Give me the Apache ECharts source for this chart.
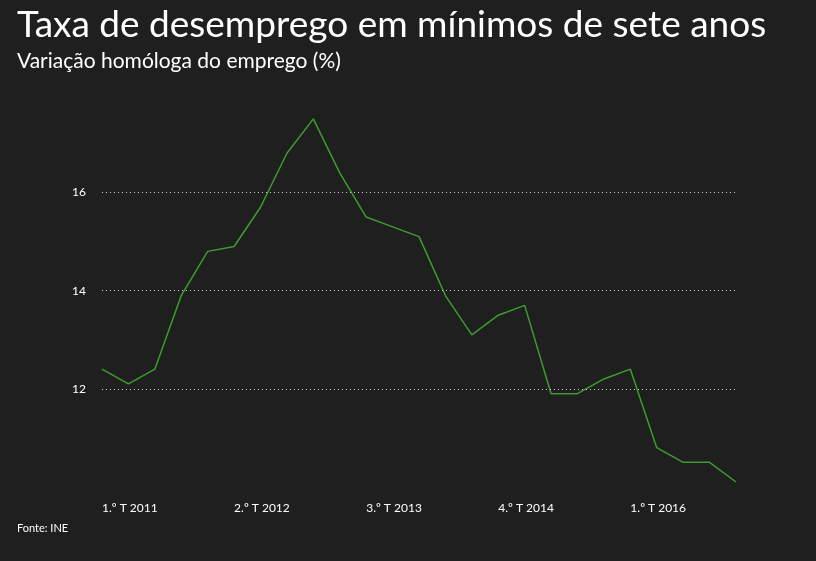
<!DOCTYPE html>
<html>
<head>
<meta charset="utf-8">
<script src="https://cdn.jsdelivr.net/npm/echarts@6/dist/echarts.min.js"></script>
<style>html,body{margin:0;background:#1f1f1f}#chart{width:816px;height:561px}</style>
</head>
<body>
<div id="chart"></div>
<script>
// trimestres 1.º T 2011 .. 1.º T 2017
var quarters = [];
for (var y = 2011; y <= 2017; y++) for (var q = 1; q <= 4; q++) quarters.push(q + '.º T ' + y);
quarters = quarters.slice(0, 25);
var taxa = [12.4, 12.1, 12.4, 13.9, 14.8, 14.9, 15.7, 16.8, 17.5, 16.4, 15.5, 15.3, 15.1,
            13.9, 13.1, 13.5, 13.7, 11.9, 11.9, 12.2, 12.4, 10.8, 10.5, 10.5, 10.1];
var yTicks = [12, 14, 16];

var chart = echarts.init(document.getElementById('chart'));
chart.setOption({
    backgroundColor: '#1f1f1f',
    textStyle: {fontFamily: 'Lato'},
    title: [
        {text: 'Taxa de desemprego em mínimos de sete anos', left: 12, top: 2,
         textStyle: {color: '#fff', fontSize: 37, fontWeight: 'normal'}},
        {text: 'Variação homóloga do emprego (%)', left: 12, top: 46,
         textStyle: {color: '#fff', fontSize: 21, fontWeight: 'normal'}},
        {text: 'Fonte: INE', left: 12, top: 518,
         textStyle: {color: '#fff', fontSize: 11, fontWeight: 'normal'}}
    ],
    grid: {left: 102, right: 80, top: 114, bottom: 79},
    xAxis: {
        type: 'category', data: quarters, boundaryGap: false,
        axisLine: {show: false}, axisTick: {show: false},
        axisLabel: {color: '#fff', fontSize: 12, interval: 4, margin: 20, align: 'left'}
    },
    yAxis: {
        type: 'value', min: 10.1, max: 17.6,
        splitLine: {show: false},
        axisLabel: {color: '#fff', fontSize: 12, customValues: yTicks, margin: 16}
    },
    series: [{
        type: 'line', data: taxa, symbol: 'none',
        lineStyle: {color: '#3d9b2f', width: 1.5},
        markLine: {
            silent: true, symbol: 'none', label: {show: false},
            lineStyle: {color: '#cfcfcf', type: [1, 3], width: 1},
            data: yTicks.map(function (v) { return {yAxis: v}; })
        }
    }]
});
</script>
</body>
</html>
